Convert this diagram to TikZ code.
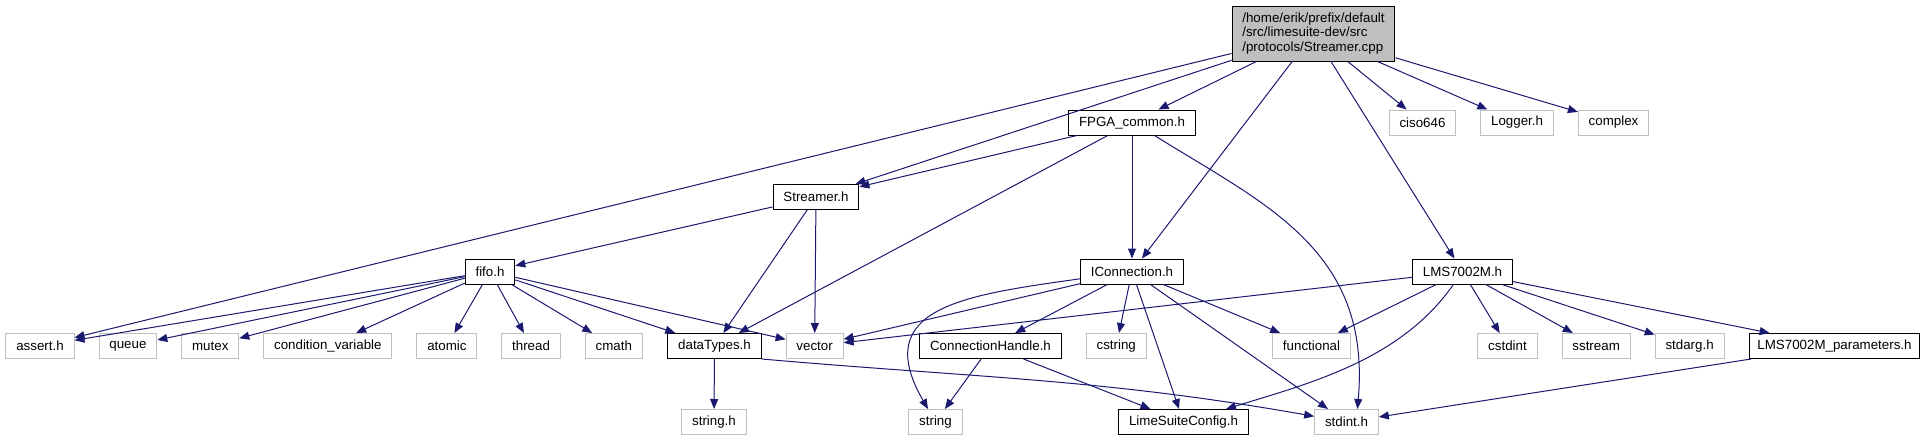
\documentclass[tikz,border=0pt]{standalone}
\usepackage{fontspec}
\setmainfont{Liberation Sans}[Ligatures=NoCommon]
\usetikzlibrary{shapes, arrows.meta, positioning}
\definecolor{incblue}{HTML}{191970}
\definecolor{sysgray}{HTML}{BFBFBF}
\tikzset{
    hdr/.style={rectangle, draw=black, fill=white, line width=0.75pt, inner xsep=7.75pt, inner ysep=2pt, minimum height=18.75pt, font=\fontsize{10}{11}\selectfont},
    hdrsys/.style={hdr, draw=sysgray},
    hdrsrc/.style={hdr, fill=sysgray, align=left, minimum height=41.25pt},
    inc/.style={-{Triangle[length=7.5pt, width=6pt]}, line width=0.75pt, incblue},
}

\begin{document}
\begin{tikzpicture}[x=0.75pt, y=0.75pt, node distance=18pt]
\useasboundingbox (0,0) rectangle (1925,-440);

% ── Source file (top) ──
\node[hdrsrc] (src) at (1313.5,-33.5) {/home/erik/prefix/default\\/src/limesuite-dev/src\\/protocols/Streamer.cpp};

% ── Rank 1 ──
\node[hdr] (fpga) at (1132,-122.5) {FPGA\_common.h};
\node[hdrsys] (ciso) at (1422.5,-122.5) {ciso646};
\node[hdrsys, right=of ciso] (logger) {Logger.h};
\node[hdrsys, right=of logger] (cplx) {complex};

% ── Rank 2 ──
\node[hdr] (streamer) at (816,-197) {Streamer.h};

% ── Rank 3 ──
\node[hdr] (fifo) at (490,-271.5) {fifo.h};
\node[hdr] (iconn) at (1132,-271.5) {IConnection.h};
\node[hdr] (lms) at (1462.5,-271.5) {LMS7002M.h};

% ── Rank 4 ──
\node[hdrsys] (asrt) at (40,-346) {assert.h};
\node[hdrsys, right=of asrt] (queue) {queue};
\node[hdrsys, right=of queue] (mutex) {mutex};
\node[hdrsys, right=of mutex] (condvar) {condition\_variable};
\node[hdrsys, right=of condvar] (atomic) {atomic};
\node[hdrsys, right=of atomic] (thread) {thread};
\node[hdrsys, right=of thread] (cmath) {cmath};
\node[hdr] (dtypes) at (714.5,-346) {dataTypes.h};
\node[hdrsys, right=of dtypes] (vector) {vector};
\node[hdr] (connh) at (990.5,-346) {ConnectionHandle.h};
\node[hdrsys, right=of connh] (cstring) {cstring};
\node[hdrsys] (functional) at (1311.5,-346) {functional};
\node[hdrsys] (cstdint) at (1507.5,-346) {cstdint};
\node[hdrsys, right=of cstdint] (sstream) {sstream};
\node[hdrsys, right=of sstream] (stdarg) {stdarg.h};
\node[hdr, inner xsep=6pt] (lmsparams) at (1834.5,-346) {LMS7002M\_parameters.h};

% ── Rank 5 ──
\node[hdrsys] (stringh) at (714,-422) {string.h};
\node[hdrsys] (string) at (935.5,-422) {string};
\node[hdr] (limecfg) at (1183.5,-422) {LimeSuiteConfig.h};
\node[hdrsys] (stdint) at (1346.5,-422) {stdint.h};

% ── Streamer.cpp includes ──
\draw[inc] (src) -- (asrt);
\draw[inc] (src) -- (streamer);
\draw[inc] (src) -- (fpga);
\draw[inc] (src) -- (iconn);
\draw[inc] (src) -- (lms);
\draw[inc] (src) -- (ciso);
\draw[inc] (src) -- (logger);
\draw[inc] (src) -- (cplx);

% ── FPGA_common.h ──
\draw[inc] (fpga) -- (streamer);
\draw[inc] (fpga) -- (dtypes);
\draw[inc] (fpga) -- (iconn);
\draw[inc] (fpga.-30) .. controls +(-32:130) and +(85:160) .. (stdint.50);

% ── Streamer.h ──
\draw[inc] (streamer) -- (fifo);
\draw[inc] (streamer) -- (dtypes);
\draw[inc] (streamer) -- (vector);

% ── fifo.h ──
\draw[inc] (fifo) -- (asrt);
\draw[inc] (fifo) -- (queue);
\draw[inc] (fifo) -- (mutex);
\draw[inc] (fifo) -- (condvar);
\draw[inc] (fifo) -- (atomic);
\draw[inc] (fifo) -- (thread);
\draw[inc] (fifo) -- (cmath);
\draw[inc] (fifo) -- (dtypes);
\draw[inc] (fifo) -- (vector);

% ── IConnection.h ──
\draw[inc] (iconn) -- (vector);
\draw[inc] (iconn) to[out=188, in=120, looseness=1.5] (string);
\draw[inc] (iconn) -- (connh);
\draw[inc] (iconn) -- (cstring);
\draw[inc] (iconn) -- (limecfg);
\draw[inc] (iconn) -- (stdint);
\draw[inc] (iconn) -- (functional);

% ── LMS7002M.h ──
\draw[inc] (lms) -- (vector);
\draw[inc] (lms) -- (functional);
\draw[inc] (lms) to[out=235, in=17, looseness=0.9] (limecfg);
\draw[inc] (lms) -- (cstdint);
\draw[inc] (lms) -- (sstream);
\draw[inc] (lms) -- (stdarg);
\draw[inc] (lms) -- (lmsparams);

% ── Lower level ──
\draw[inc] (connh) -- (string);
\draw[inc] (connh) -- (limecfg);
\draw[inc] (dtypes) -- (stringh);
\draw[inc] (dtypes.south east) to[out=-5, in=170] (stdint);
\draw[inc] (lmsparams) -- (stdint);

\end{tikzpicture}
\end{document}
